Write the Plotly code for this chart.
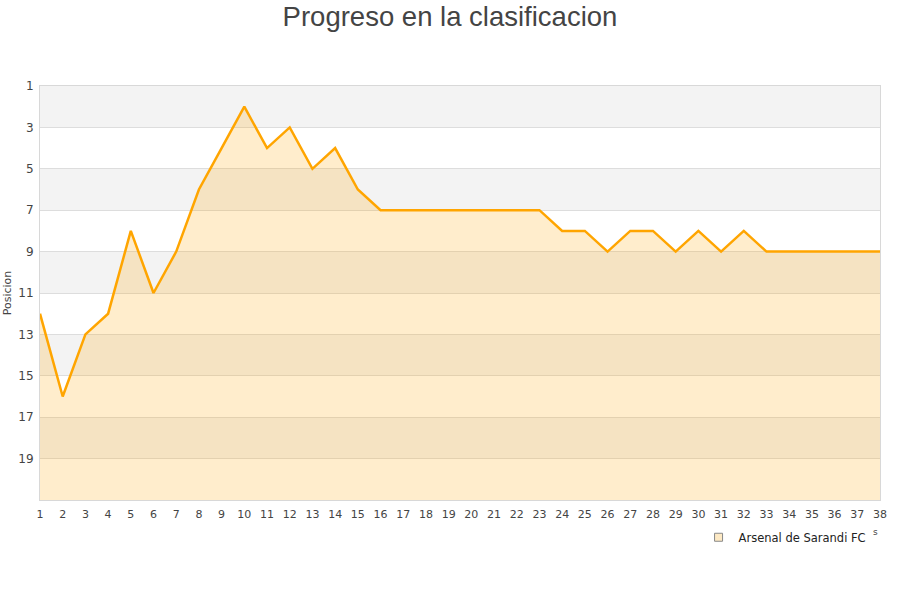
import plotly.graph_objects as go

jornadas = list(range(1, 39))
posiciones = [12, 16, 13, 12, 8, 11, 9, 6, 4, 2,
              4, 3, 5, 4, 6, 7, 7, 7, 7, 7,
              7, 7, 7, 8, 8, 9, 8, 8, 9, 8,
              9, 8, 9, 9, 9, 9, 9, 9]
equipo = "Arsenal de Sarandi FC"
y_ticks = [1, 3, 5, 7, 9, 11, 13, 15, 17, 19]
fondo_max = 21

fig = go.Figure()

# franjas alternas grises
for i, t in enumerate(y_ticks):
    if i % 2 == 0:
        fig.add_hrect(y0=t, y1=t + 2, fillcolor="#f3f3f3", line_width=0, layer="below")

# base para el relleno
fig.add_trace(go.Scatter(x=jornadas, y=[fondo_max] * len(jornadas), mode="lines",
                         line=dict(width=0), showlegend=False, hoverinfo="skip"))
fig.add_trace(go.Scatter(x=jornadas, y=posiciones, mode="lines", name=equipo,
                         line=dict(color="#ffa500", width=2.5),
                         fill="tonexty", fillcolor="rgba(255,165,0,0.2)",
                         showlegend=False))
# entrada de leyenda
fig.add_trace(go.Scatter(x=[None], y=[None], mode="markers", name=equipo,
                         marker=dict(symbol="square", size=8, color="#fde9c4",
                                     line=dict(color="#888", width=1))))

fig.update_layout(
    width=900, height=600,
    paper_bgcolor="white", plot_bgcolor="white",
    font=dict(family="DejaVu Sans", color="#444", size=11),
    title=dict(text="Progreso en la clasificacion", x=0.5, xanchor="center",
               y=0.973, yanchor="middle", automargin=False,
               font=dict(family="Liberation Sans, Arial", size=27.5, color="#444")),
    margin=dict(l=40, r=20, t=86, b=100),
    showlegend=True,
    legend=dict(x=0.784, y=-0.09, xanchor="left", yanchor="middle",
                font=dict(size=11.5, color="#222"), bgcolor="rgba(0,0,0,0)",
                itemwidth=30),
)
fig.update_xaxes(range=[1, 38], tickmode="array", tickvals=jornadas, automargin=False,
                 showgrid=False, zeroline=False, showline=True, linecolor="#d8d8d8",
                 linewidth=1, mirror=True, ticks="", ticklabelstandoff=4,
                 tickfont=dict(size=11, color="#444"))
fig.update_yaxes(range=[fondo_max, 1], tickmode="array", tickvals=y_ticks, automargin=False,
                 showgrid=True, gridcolor="#dddddd", zeroline=False,
                 showline=True, linecolor="#d8d8d8", linewidth=1, mirror=True,
                 ticks="", ticklabelstandoff=3, tickfont=dict(size=12, color="#444"),
                 title=dict(text="Posicion", font=dict(size=11, color="#444"), standoff=4))
fig.add_annotation(text="s", x=1.0, y=-0.095, xref="paper", yref="paper",
                   showarrow=False, font=dict(size=9, color="#444"))

fig.write_html("out.html", config={"displayModeBar": False},
               post_script="document.body.style.margin='0';")
